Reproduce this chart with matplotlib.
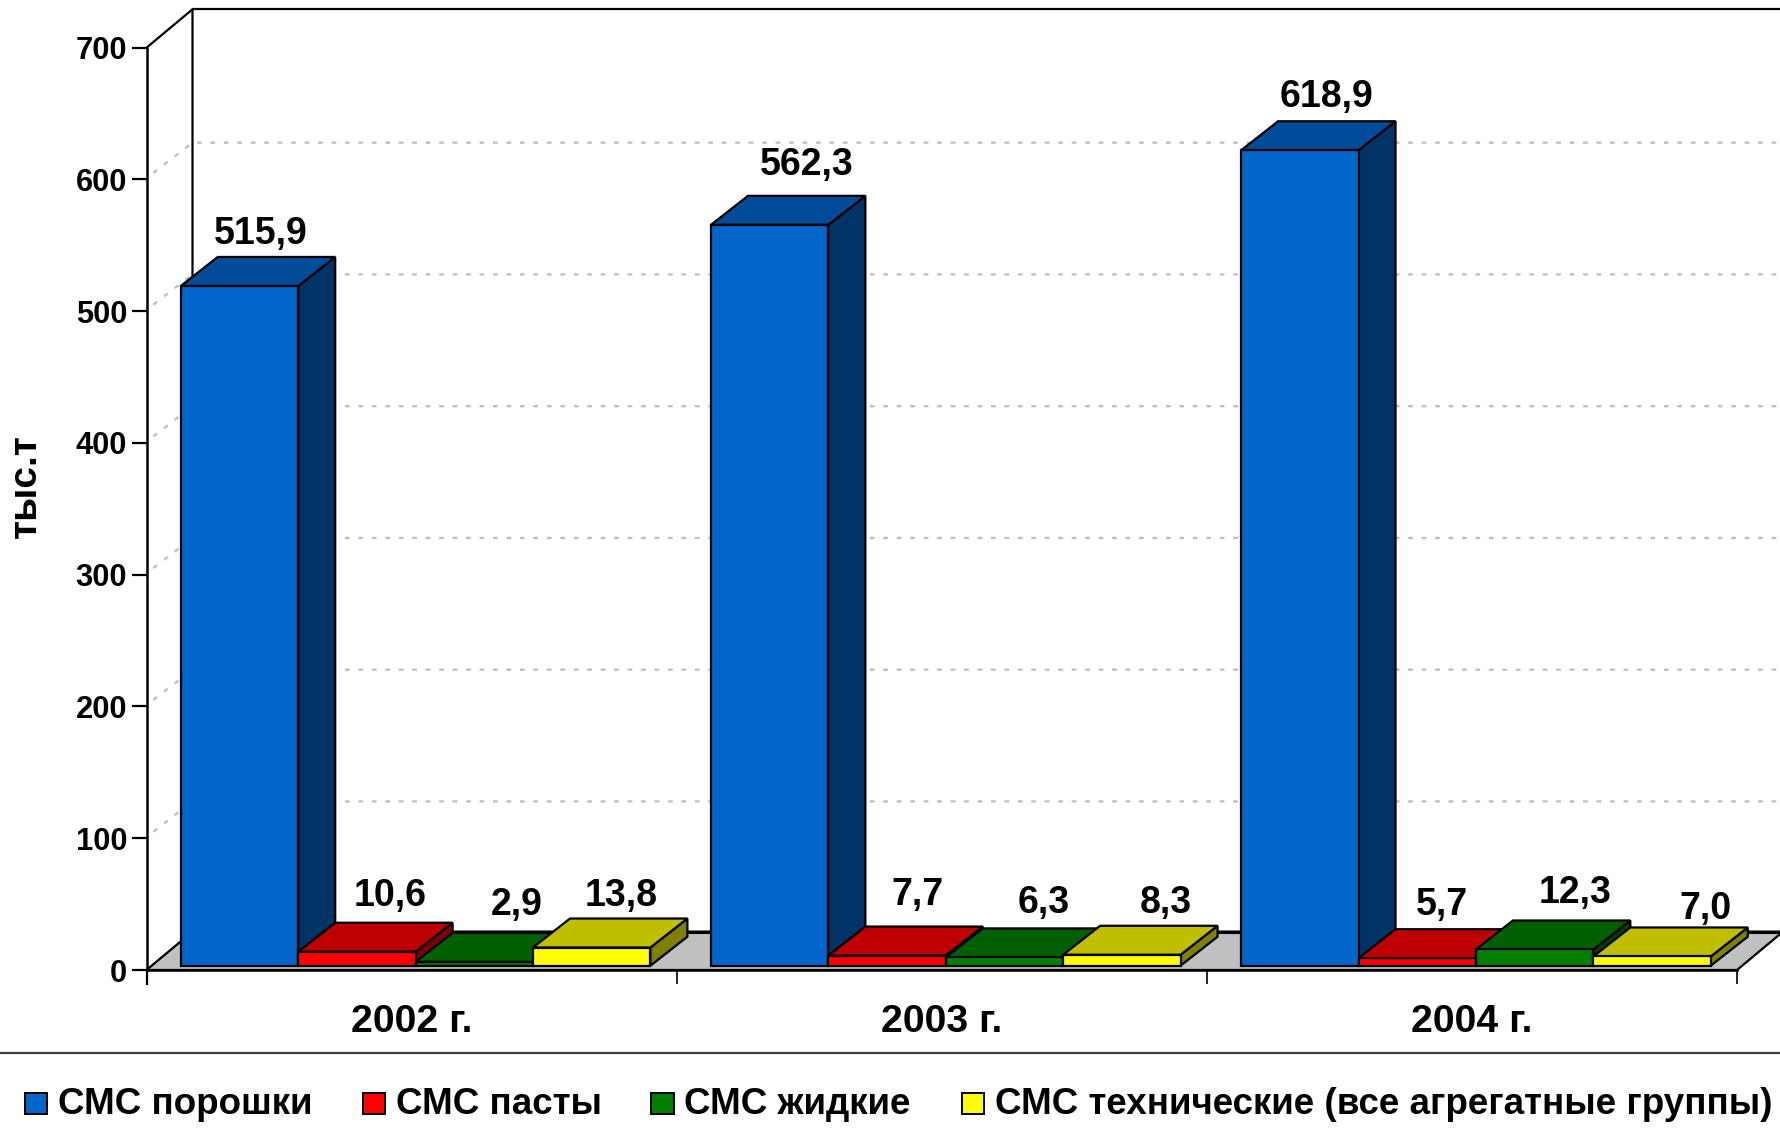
import matplotlib
matplotlib.use("Agg")
import matplotlib.pyplot as plt
from matplotlib.patches import Rectangle

W, H = 1781, 1146

years = ["2002 г.", "2003 г.", "2004 г."]
series_names = [
    "СМС порошки",
    "СМС пасты",
    "СМС жидкие",
    "СМС технические (все агрегатные группы)",
]
powders = [515.9, 562.3, 618.9]
pastes = [10.6, 7.7, 5.7]
liquids = [2.9, 6.3, 12.3]
technical = [13.8, 8.3, 7.0]
series = [powders, pastes, liquids, technical]
y_ticks = [0, 100, 200, 300, 400, 500, 600, 700]

# front, top, side colours of every series
colors = [
    ("#0066CC", "#004C99", "#003366"),
    ("#FF0000", "#BF0000", "#800000"),
    ("#008000", "#006000", "#004000"),
    ("#FFFF00", "#BFBF00", "#808000"),
]

# hand placed value labels: shift from the front top centre of a bar, in pixels
label_dx = [[21, 37, 27], [33, 30, 25], [42, 39, 40], [29, 44, 53]]
label_dy = [[52, 60, 53], [56, 61, 53], [57, 54, 56], [52, 52, 47]]

legend_square_x = [24.5, 363, 651.5, 962]
legend_text_x = [58, 396.5, 684.5, 995.5]

plt.rcParams["font.family"] = ["Liberation Sans", "DejaVu Sans"]
plt.rcParams["font.weight"] = "bold"

fig = plt.figure(figsize=(W / 100, H / 100), dpi=100)
ax = fig.add_axes([146.5 / W, (H - 970) / H, 1590.5 / W, 922.3 / H])
ax.set_xlim(0, 3)
ax.set_ylim(0, 700)

# pixels to data units
ux = 3 / 1590.5
uy = 700 / 922.3

wall_dx = 46 * ux
wall_dy = 38.4 * uy
grid_dy = 36.8 * uy
bar_dx = 37 * ux
bar_dy = 29 * uy
bar_w = 117.4 * ux
bar_x0 = 34.3 * ux
bar_base = 4.3 * uy
LW = 1.6

# back wall frame
ax.plot([0, wall_dx, wall_dx], [700, 700 + wall_dy, wall_dy], color="black", lw=LW,
        clip_on=False, zorder=1.5)
ax.plot([wall_dx, 3 + wall_dx], [700 + wall_dy, 700 + wall_dy], color="black", lw=LW,
        clip_on=False, zorder=1.5)

# dotted gridlines on the side and back walls
for t in y_ticks[1:-1]:
    ax.plot([0.013, wall_dx, 3 + wall_dx], [t + 5, t + grid_dy, t + grid_dy],
            color="#C0C0C0", lw=1.7, ls=(0, (2, 3.7)), clip_on=False, zorder=1)

# floor
ax.fill([0, wall_dx, 3 + wall_dx, 3], [0, wall_dy, wall_dy, 0], facecolor="#C0C0C0",
        edgecolor="black", lw=LW, clip_on=False, zorder=2)
ax.plot([wall_dx, 3 + wall_dx], [wall_dy, wall_dy], color="black", lw=2.2, clip_on=False,
        zorder=2.1)

# bars, painted from left to right
z = 3
for g in range(len(years)):
    for s, values in enumerate(series):
        v = values[g]
        x = g + bar_x0 + s * bar_w
        top = bar_base + v
        front, top_c, side = colors[s]
        ax.fill([x + bar_w, x + bar_w + bar_dx, x + bar_w + bar_dx, x + bar_w],
                [bar_base, bar_base + bar_dy, top + bar_dy, top],
                facecolor=side, edgecolor="black", lw=LW, clip_on=False, zorder=z)
        ax.fill([x, x + bar_dx, x + bar_w + bar_dx, x + bar_w],
                [top, top + bar_dy, top + bar_dy, top],
                facecolor=top_c, edgecolor="black", lw=LW, clip_on=False, zorder=z)
        ax.bar(x, v, bar_w, bottom=bar_base, align="edge", color=front, edgecolor="black",
               lw=LW, clip_on=False, zorder=z + 0.1)
        z += 1
        ax.annotate(f"{v:.1f}".replace(".", ","), (x + bar_w / 2, top),
                    xytext=(label_dx[s][g] * 0.72, label_dy[s][g] * 0.72),
                    textcoords="offset points", ha="center", va="center", fontsize=27,
                    zorder=50)

# axes
for name in ["top", "right"]:
    ax.spines[name].set_visible(False)
ax.patch.set_alpha(0)
for name in ["left", "bottom"]:
    ax.spines[name].set_linewidth(LW + 0.2)
    ax.spines[name].set_zorder(40)
ax.set_yticks(y_ticks)
ax.tick_params(axis="y", length=10.5, width=LW, pad=3.5, labelsize=22.2)
ax.set_xticks([0, 1, 2, 3])
ax.set_xticklabels([])
ax.tick_params(axis="x", which="major", length=10, width=1.2)
ax.set_xticks([0.5, 1.5, 2.5], minor=True)
ax.set_xticklabels(years, minor=True, fontsize=28.3)
ax.tick_params(axis="x", which="minor", length=0, pad=24.5)
ax.spines["left"].set_bounds(0, 700)
ax.plot([0, 0], [0, -14 * uy], color="black", lw=LW, clip_on=False, zorder=40)
ax.set_ylabel("тыс.т", fontsize=28, fontweight="bold")
ax.yaxis.set_label_coords(-0.0645, 0.5245)

# legend strip under the chart
fig.add_artist(plt.Line2D([0, 1], [(H - 1052.5) / H] * 2, color="#404040", lw=1.6))
for name, c, sx, tx in zip(series_names, colors, legend_square_x, legend_text_x):
    fig.add_artist(Rectangle((sx / W, (H - 1114) / H), 22.5 / W, 21.5 / H, facecolor=c[0],
                             edgecolor="black", lw=1.4, transform=fig.transFigure))
    fig.text(tx / W, (H - 1114) / H, name, fontsize=26.5, va="baseline", ha="left")

fig.savefig("out.png", dpi=100, facecolor="white")
